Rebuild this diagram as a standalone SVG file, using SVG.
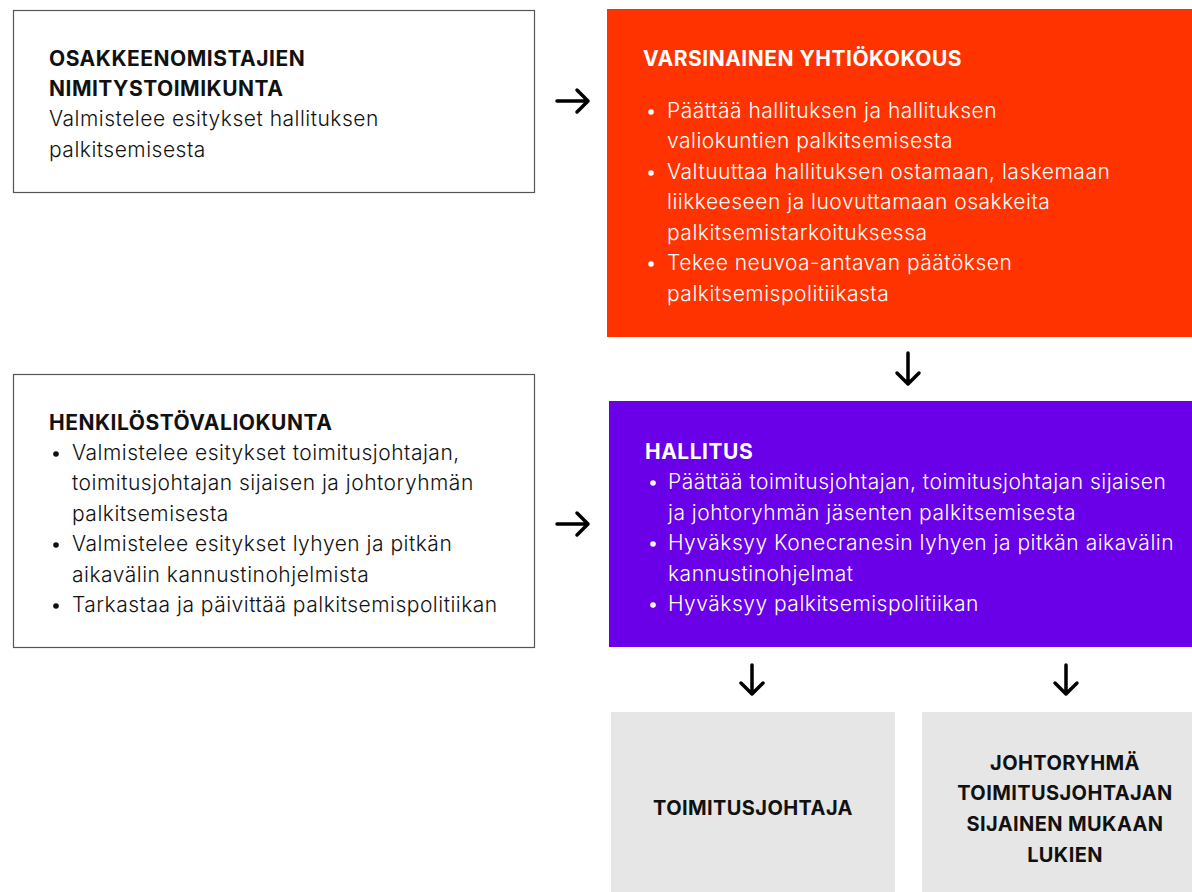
<svg xmlns="http://www.w3.org/2000/svg" width="1192" height="892" viewBox="0 0 1192 892">
<style>
.t{font-family:Inter,"Noto Sans","Liberation Sans",sans-serif;font-size:21px;letter-spacing:0.5px;}
.h{font-weight:700;letter-spacing:0.5px;}
.g{font-size:20px;letter-spacing:0.4px;}
.b{font-weight:300;}
.dk{fill:#111111;}
.wt{fill:#ffffff;}
.box{fill:#ffffff;stroke:#555555;stroke-width:1.2;}
.arr{fill:none;stroke:#000000;stroke-width:3.5;stroke-linecap:round;stroke-linejoin:round;}
</style>
<rect width="1192" height="892" fill="#ffffff"/>
<g id="nimitystoimikunta">
<rect class="box" x="13.5" y="10.5" width="521" height="182"/>
<text class="t h dk" x="49" y="66">OSAKKEENOMISTAJIEN</text>
<text class="t h dk" x="49" y="96">NIMITYSTOIMIKUNTA</text>
<text class="t b dk" x="49" y="126">Valmistelee esitykset hallituksen</text>
<text class="t b dk" x="49" y="157">palkitsemisesta</text>
</g>
<g id="yhtiokokous">
<rect x="607" y="9" width="585" height="328" fill="#ff3300"/>
<text class="t h wt" x="643" y="66">VARSINAINEN YHTIÖKOKOUS</text>
<g class="t b wt">
<circle cx="651" cy="112" r="2.8" fill="#fff"/>
<text x="667" y="118">Päättää hallituksen ja hallituksen</text>
<text x="667" y="148">valiokuntien palkitsemisesta</text>
<circle cx="651" cy="173" r="2.8" fill="#fff"/>
<text x="667" y="179">Valtuuttaa hallituksen ostamaan, laskemaan</text>
<text x="667" y="209">liikkeeseen ja luovuttamaan osakkeita</text>
<text x="667" y="240">palkitsemistarkoituksessa</text>
<circle cx="651" cy="264" r="2.8" fill="#fff"/>
<text x="667" y="270">Tekee neuvoa-antavan päätöksen</text>
<text x="667" y="301">palkitsemispolitiikasta</text>
</g>
</g>
<g id="henkilostovaliokunta">
<rect class="box" x="13.5" y="374.5" width="521" height="273"/>
<text class="t h dk" x="49" y="430">HENKILÖSTÖVALIOKUNTA</text>
<g class="t b dk">
<circle cx="56" cy="454" r="2.8" fill="#111"/>
<text x="72" y="460">Valmistelee esitykset toimitusjohtajan,</text>
<text x="72" y="490">toimitusjohtajan sijaisen ja johtoryhmän</text>
<text x="72" y="521">palkitsemisesta</text>
<circle cx="56" cy="545" r="2.8" fill="#111"/>
<text x="72" y="551">Valmistelee esitykset lyhyen ja pitkän</text>
<text x="72" y="582">aikavälin kannustinohjelmista</text>
<circle cx="56" cy="606" r="2.8" fill="#111"/>
<text x="72" y="612">Tarkastaa ja päivittää palkitsemispolitiikan</text>
</g>
</g>
<g id="hallitus">
<rect x="609" y="401" width="583" height="246" fill="#6a00e8"/>
<text class="t h wt" x="645" y="459">HALLITUS</text>
<g class="t b wt">
<circle cx="653" cy="483" r="2.8" fill="#fff"/>
<text x="668" y="489">Päättää toimitusjohtajan, toimitusjohtajan sijaisen</text>
<text x="668" y="520">ja johtoryhmän jäsenten palkitsemisesta</text>
<circle cx="653" cy="544" r="2.8" fill="#fff"/>
<text x="668" y="550">Hyväksyy Konecranesin lyhyen ja pitkän aikavälin</text>
<text x="668" y="581">kannustinohjelmat</text>
<circle cx="653" cy="605" r="2.8" fill="#fff"/>
<text x="668" y="611">Hyväksyy palkitsemispolitiikan</text>
</g>
</g>
<g id="toimitusjohtaja">
<rect x="611" y="712" width="284" height="180" fill="#e6e6e6"/>
<text class="t h g dk" x="753" y="815" text-anchor="middle">TOIMITUSJOHTAJA</text>
</g>
<g id="johtoryhma">
<rect x="922" y="712" width="270" height="180" fill="#e6e6e6"/>
<g class="t h g dk" text-anchor="middle">
<text x="1065" y="770">JOHTORYHMÄ</text>
<text x="1065" y="800">TOIMITUSJOHTAJAN</text>
<text x="1065" y="831">SIJAINEN MUKAAN</text>
<text x="1065" y="862">LUKIEN</text>
</g>
</g>
<g id="connectors">
<path class="arr" d="M557 101 H588 M577 90 L588 101 L577 112"/>
<path class="arr" d="M557 524 H588 M577 513 L588 524 L577 535"/>
<path class="arr" d="M908 353 V384 M897 373 L908 384 L919 373"/>
<path class="arr" d="M752 665 V694 M741 683 L752 694 L763 683"/>
<path class="arr" d="M1066 665 V694 M1055 683 L1066 694 L1077 683"/>
</g>
</svg>
